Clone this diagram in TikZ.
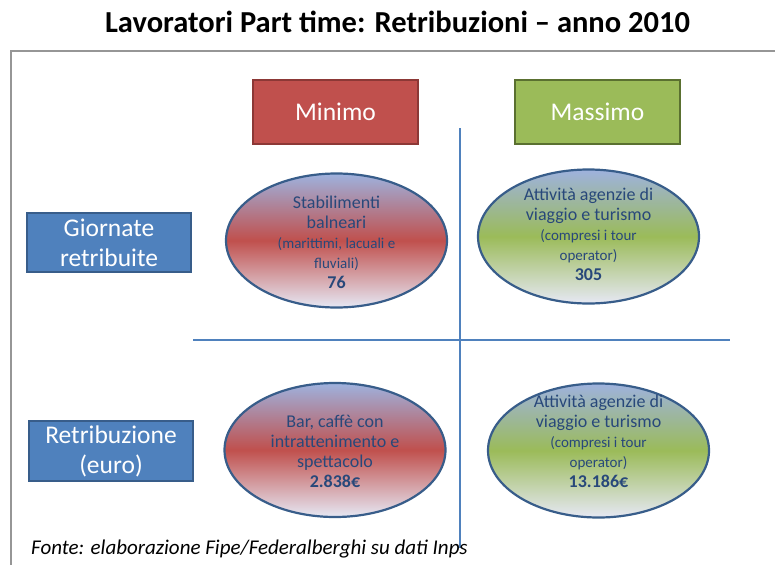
\documentclass[tikz,border=0pt]{standalone}
\usepackage{fontspec}
\setmainfont{Carlito}
\usepackage{tikz}
\usetikzlibrary{shapes.geometric}
\definecolor{minred}{HTML}{C0504D}
\definecolor{minredborder}{HTML}{8C3836}
\definecolor{maxgreen}{HTML}{9BBB59}
\definecolor{maxgreenborder}{HTML}{5A7030}
\definecolor{rowblue}{HTML}{4F81BD}
\definecolor{rowblueborder}{HTML}{385D8A}
\definecolor{elltop}{RGB}{158,178,222}
\definecolor{ellbottom}{RGB}{230,232,244}
\definecolor{elltext}{RGB}{40,72,122}
\definecolor{framegray}{RGB}{150,150,150}
\newcommand{\smallell}{\fontsize{15}{20}\selectfont}
\tikzset{
  headbox/.style={draw=#1border, fill=#1, line width=2pt, minimum width=165pt, minimum height=64pt, text=white, font=\fontsize{25.5}{31}\selectfont},
  rowbox/.style={draw=rowblueborder, fill=rowblue, line width=1.8pt, minimum width=164pt, minimum height=60pt, text=white, align=center, font=\fontsize{25.5}{30}\selectfont},
  cellell/.style={ellipse, draw=rowblueborder, line width=2.2pt, minimum width=221pt, minimum height=134pt, inner sep=0pt, top color=elltop, bottom color=ellbottom, middle color=#1},
  celltext/.style={align=center, text=elltext, font=\fontsize{18}{20}\selectfont},
  divider/.style={draw=rowblue, line width=1.3pt}
}

\begin{document}
\begin{tikzpicture}[x=1pt, y=-1pt]
\useasboundingbox (0,0) rectangle (775,565);
\node[font=\bfseries\fontsize{30.5}{36}\selectfont] (title) at (397.5,22) {Lavoratori Part time: Retribuzioni – anno 2010};
\draw[framegray, line width=1.5pt] (775,51) -| (11,565);
\draw[divider] (460,128) -- (460,548);
\draw[divider] (193,340) -- (730,340);
\node[headbox=minred] (minimo) at (335.5,112) {Minimo};
\node[headbox=maxgreen] (massimo) at (597.5,112) {Massimo};
\node[rowbox, minimum height=59pt] (giornate) at (109,242.5) {Giornate\\retribuite};
\node[rowbox] (retribuzione) at (111,451) {Retribuzione\\(euro)};
\node[cellell=minred] (giorniMin) at (336.5,240.5) {};
\node[cellell=maxgreen] (giorniMax) at (588.5,236.5) {};
\node[cellell=minred] (euroMin) at (335,450) {};
\node[cellell=maxgreen] (euroMax) at (598.5,450.5) {};
\node[celltext, yshift=-2pt] (giorniMinText) at (giorniMin) {Stabilimenti\\balneari\\{\smallell(marittimi, lacuali e}\\{\smallell fluviali)}\\\textbf{76}};
\node[celltext, yshift=2pt] (giorniMaxText) at (giorniMax) {Attività agenzie di\\viaggio e turismo\\{\smallell(compresi i tour}\\{\smallell operator)}\\\textbf{305}};
\node[celltext, yshift=-1pt] (euroMinText) at (euroMin) {Bar, caffè con\\intrattenimento e\\spettacolo\\\textbf{2.838€}};
\node[celltext, yshift=9pt] (euroMaxText) at (euroMax) {Attività agenzie di\\viaggio e turismo\\{\smallell(compresi i tour}\\{\smallell operator)}\\\textbf{13.186€}};
\node[anchor=west, inner sep=0pt, font=\itshape\fontsize{21}{25}\selectfont] (fonte) at (31,549) {Fonte: elaborazione Fipe/Federalberghi su dati Inps};
\end{tikzpicture}
\end{document}
